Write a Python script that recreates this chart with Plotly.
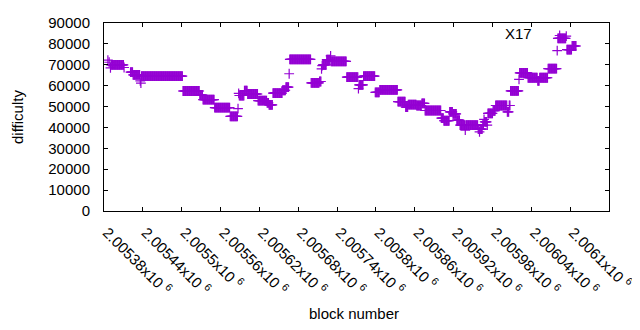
import plotly.graph_objects as go

BASE_BLOCK = 2005380

# Runs of constant difficulty: (first block offset, last block offset, difficulty)
run_start = [6, 8, 10, 11, 12, 31, 41, 45, 56, 57, 58, 122, 148, 153, 171, 195, 207, 208, 209, 217, 222,
             238, 252, 255, 261, 276, 281, 286, 287, 320, 333, 336, 337, 338, 344, 350, 351, 375, 393, 394,
             401, 419, 426, 454, 466, 470, 483, 491, 496, 521, 525, 534, 539, 545, 550, 558, 559, 578, 580,
             581, 585, 587, 588, 592, 593, 601, 605, 623, 626, 628, 641, 642, 655, 670, 673, 686, 700, 701,
             714, 715, 723]
run_end = [6, 8, 10, 11, 30, 31, 44, 55, 56, 57, 121, 147, 152, 170, 194, 206, 207, 208, 216, 221, 237,
           251, 254, 260, 275, 280, 285, 286, 319, 332, 335, 336, 337, 343, 349, 350, 374, 392, 393, 400,
           418, 425, 453, 465, 469, 482, 490, 495, 520, 524, 533, 538, 544, 549, 557, 558, 577, 579, 580,
           584, 586, 587, 591, 592, 600, 604, 622, 625, 627, 640, 641, 654, 669, 672, 685, 699, 700, 713,
           714, 722, 729]
run_difficulty = [72200, 71200, 68500, 70000, 70000, 68700, 66500, 65200, 62300, 61200, 64600, 57450,
                  55500, 53300, 49500, 45300, 49000, 56300, 55300, 57600, 56000, 52850, 51800, 50800,
                  56400, 57800, 59300, 65700, 72600, 61300, 62000, 68000, 69600, 70000, 72500, 74300,
                  71650, 64100, 58600, 60400, 64600, 56750, 58000, 52400, 49700, 50900, 50500, 51500,
                  48100, 44500, 43200, 47500, 46500, 43500, 41100, 38700, 41100, 39200, 37900, 39200,
                  41100, 43900, 42700, 41100, 46700, 48000, 50500, 47500, 50500, 57500, 63000, 66150,
                  63800, 62250, 63800, 68200, 76800, 82600, 83700, 77300, 79000]

x_tick_values = [2005380, 2005440, 2005500, 2005560, 2005620, 2005680, 2005740,
                 2005800, 2005860, 2005920, 2005980, 2006040, 2006100, 2006160]
x_tick_labels = ["2.00538", "2.00544", "2.0055", "2.00556", "2.00562", "2.00568", "2.00574",
                 "2.0058", "2.00586", "2.00592", "2.00598", "2.00604", "2.0061", "2.00616"]

blocks, difficulty = [], []
for s, e, d in zip(run_start, run_end, run_difficulty):
    for b in range(s, e + 1):
        blocks.append(BASE_BLOCK + b)
        difficulty.append(d)

FONT = "Liberation Sans"
PURPLE = "#9400d3"

fig = go.Figure()
fig.add_trace(go.Scatter(
    x=blocks, y=difficulty, mode="markers", name="",
    marker=dict(symbol="cross-thin", size=7, color=PURPLE,
                line=dict(color=PURPLE, width=1.2)),
    showlegend=True,
))

# page body has an 8px margin, so the margins are shifted by 8px up/left
fig.update_layout(
    width=640, height=330,
    margin=dict(l=96, r=39, t=11, b=127),
    paper_bgcolor="white", plot_bgcolor="white",
    font=dict(family=FONT, size=15, color="black"),
    legend=dict(x=0.79, y=1.02, xanchor="left", yanchor="top",
                bgcolor="rgba(0,0,0,0)", borderwidth=0,
                title=dict(text="X17", side="left", font=dict(size=15)),
                font=dict(size=15)),
    xaxis=dict(range=[x_tick_values[0], x_tick_values[-1]],
               tickvals=x_tick_values,
               ticktext=[t + "x10 <sup>6</sup>" for t in x_tick_labels],
               tickangle=45, ticks="inside", ticklen=4, tickcolor="black",
               showline=True, linecolor="black", linewidth=1, mirror="ticks",
               showgrid=False, zeroline=False, automargin=False,
               ticklabelstandoff=6, ticklabelshift=3),
    yaxis=dict(range=[0, 90000], dtick=10000, tick0=0, tickformat="d",
               ticks="inside", ticklen=4, tickcolor="black",
               showline=True, linecolor="black", linewidth=1, mirror="ticks",
               showgrid=False, zeroline=False, automargin=False,
               ticklabelstandoff=10),
    annotations=[
        dict(text="difficulty", xref="paper", yref="paper",
             x=(17 - 104) / 505, y=0.5, textangle=-90, showarrow=False,
             xanchor="center", yanchor="middle", font=dict(size=15)),
        dict(text="block number", xref="paper", yref="paper",
             x=(354 - 104) / 505, y=(211 - 316) / 192, showarrow=False,
             xanchor="center", yanchor="middle", font=dict(size=15)),
    ],
)

fig.write_html("out.html")
